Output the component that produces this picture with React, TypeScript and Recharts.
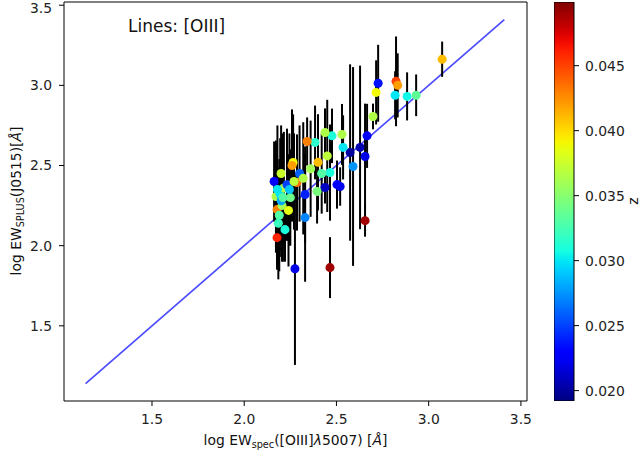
import {
  ScatterChart,
  ComposedChart,
  Scatter,
  Bar,
  XAxis,
  YAxis,
  ZAxis,
  ErrorBar,
  Cell,
  ReferenceLine,
  ReferenceArea,
} from "recharts";

// log EW_spec([OIII]) per galaxy
const xs = [
  3.073, 2.823, 2.832, 2.726, 2.715, 2.818, 2.883, 2.932, 2.698,
  2.666, 2.628, 2.655, 2.574, 2.59, 2.53, 2.476, 2.438, 2.536, 2.384, 2.341,
  2.465, 2.52, 2.503, 2.438, 2.395, 2.33, 2.33, 2.275, 2.465, 2.655,
  2.162, 2.172, 2.178, 2.178, 2.221, 2.265, 2.286, 2.259, 2.2,
  2.195, 2.205, 2.215, 2.19, 2.24, 2.2, 2.25, 2.232, 2.185,
  2.3, 2.32, 2.36, 2.4, 2.42, 2.45,
  2.18, 2.21, 2.245, 2.27,
];
// log EW_SPLUS(J0515)
const ys = [
  3.163, 3.025, 3.0, 3.013, 2.956, 2.938, 2.931, 2.938, 2.806,
  2.685, 2.613, 2.556, 2.581, 2.494, 2.694, 2.685, 2.706, 2.613, 2.644, 2.65,
  2.456, 2.369, 2.381, 2.363, 2.338, 2.319, 2.175, 1.856, 1.863, 2.156,
  2.4, 2.306, 2.225, 2.05, 2.1, 2.519, 2.394, 2.5, 2.45,
  2.32, 2.25, 2.36, 2.19, 2.22, 2.28, 2.3, 2.38, 2.14,
  2.45, 2.42, 2.48, 2.52, 2.45, 2.56,
  2.35, 2.3, 2.35, 2.4,
];
// y uncertainty
const errs = [
  0.11, 0.28, 0.2, 0.24, 0.2, 0.15, 0.15, 0.13, 0.08,
  0.2, 0.51, 0.33, 0.55, 0.62, 0.19, 0.17, 0.15, 0.2, 0.23, 0.15,
  0.3, 0.12, 0.15, 0.1, 0.2, 0.3, 0.4, 0.6, 0.19, 0.1,
  0.25, 0.35, 0.35, 0.2, 0.2, 0.3, 0.3, 0.35, 0.3,
  0.35, 0.35, 0.35, 0.35, 0.35, 0.35, 0.3, 0.35, 0.35,
  0.3, 0.35, 0.3, 0.3, 0.25, 0.35,
  0.4, 0.4, 0.35, 0.3,
];
// redshift
const zs = [
  0.041, 0.045, 0.042, 0.0235, 0.039, 0.03, 0.0305, 0.0335, 0.0365,
  0.023, 0.0205, 0.022, 0.02, 0.0275, 0.0365, 0.031, 0.0365, 0.03, 0.0315, 0.043,
  0.031, 0.022, 0.023, 0.021, 0.0345, 0.024, 0.027, 0.022, 0.049, 0.049,
  0.023, 0.0365, 0.043, 0.046, 0.031, 0.039, 0.0435, 0.042, 0.0375,
  0.03, 0.036, 0.0365, 0.033, 0.0385, 0.028, 0.034, 0.025, 0.032,
  0.026, 0.0365, 0.036, 0.041, 0.033, 0.037,
  0.03, 0.033, 0.029, 0.037,
];

const xTicks = [1.5, 2.0, 2.5, 3.0, 3.5];
const yTicks = [1.5, 2.0, 2.5, 3.0, 3.5];
const zTicks = [0.02, 0.025, 0.03, 0.035, 0.04, 0.045];
const oneToOne = [1.14, 3.41];

const X_DOMAIN: [number, number] = [1.023, 3.533];
const Y_DOMAIN: [number, number] = [1.031, 3.52];
const Z_MIN = 0.0192;
const Z_MAX = 0.0499;

const data = xs.map((x, i) => ({ x, y: ys[i], err: errs[i], z: zs[i] }));
const colorbarData = [{ name: "z", range: [Z_MIN, Z_MAX] }];

const FONT = "DejaVu Sans, sans-serif";
const tickStyle = { fontSize: 13.9, fill: "#222", fontFamily: FONT };

// matplotlib "jet"
const JET_R = [[0, 0], [0.35, 0], [0.66, 1], [0.89, 1], [1, 0.5]];
const JET_G = [[0, 0], [0.125, 0], [0.375, 1], [0.64, 1], [0.91, 0], [1, 0]];
const JET_B = [[0, 0.5], [0.11, 1], [0.34, 1], [0.65, 0], [1, 0]];

function channel(pts: number[][], t: number) {
  for (let i = 1; i < pts.length; i++) {
    if (t <= pts[i][0]) {
      const [t0, v0] = pts[i - 1];
      const [t1, v1] = pts[i];
      return v0 + ((t - t0) / (t1 - t0)) * (v1 - v0);
    }
  }
  return pts[pts.length - 1][1];
}

function jet(t: number) {
  const c = Math.max(0, Math.min(1, t));
  const r = Math.round(channel(JET_R, c) * 255);
  const g = Math.round(channel(JET_G, c) * 255);
  const b = Math.round(channel(JET_B, c) * 255);
  return `rgb(${r},${g},${b})`;
}

const zColor = (z: number) => jet((z - Z_MIN) / (Z_MAX - Z_MIN));
const gradStops = Array.from({ length: 41 }, (_, i) => i / 40);

export default function App() {
  return (
    <div
      style={{
        position: "absolute",
        left: 0,
        top: 0,
        width: 644,
        height: 459,
        background: "#fff",
        fontFamily: FONT,
      }}
    >
      <svg width={1} height={1} style={{ position: "absolute", left: 0, top: 0 }}>
        <defs>
          <linearGradient id="jetGrad" x1="0" y1="1" x2="0" y2="0">
            {gradStops.map((t) => (
              <stop key={t} offset={t} stopColor={jet(t)} />
            ))}
          </linearGradient>
        </defs>
      </svg>

      <div style={{ position: "absolute", left: 0, top: 0 }}>
        <ScatterChart
          width={644}
          height={459}
          margin={{ top: 2, right: 117, bottom: 0, left: 0 }}
        >
          <XAxis
            type="number"
            dataKey="x"
            domain={X_DOMAIN}
            ticks={xTicks}
            allowDataOverflow
            height={58}
            axisLine={false}
            tickSize={5}
            tickMargin={8}
            tickLine={{ stroke: "#000" }}
            tick={tickStyle}
            tickFormatter={(v: number) => v.toFixed(1)}
          />
          <YAxis
            type="number"
            dataKey="y"
            domain={Y_DOMAIN}
            ticks={yTicks}
            allowDataOverflow
            width={64}
            axisLine={false}
            tickSize={5}
            tickMargin={7}
            tickLine={{ stroke: "#000" }}
            tick={tickStyle}
            tickFormatter={(v: number) => v.toFixed(1)}
          />
          <ZAxis range={[100, 100]} />
          <ReferenceLine
            segment={[
              { x: oneToOne[0], y: oneToOne[0] },
              { x: oneToOne[1], y: oneToOne[1] },
            ]}
            stroke="#4d4dff"
            strokeWidth={1.7}
          />
          <Scatter data={data} isAnimationActive={false}>
            {data.map((d, i) => (
              <Cell key={`pt-${i}`} fill={zColor(d.z)} />
            ))}
          </Scatter>
          <Scatter data={data} isAnimationActive={false} shape={() => <g />}>
            <ErrorBar
              dataKey="err"
              direction="y"
              width={0}
              stroke="#000"
              strokeWidth={2}
              isAnimationActive={false}
            />
          </Scatter>
          <ReferenceArea
            x1={X_DOMAIN[0]}
            x2={X_DOMAIN[1]}
            y1={Y_DOMAIN[0]}
            y2={Y_DOMAIN[1]}
            fill="none"
            stroke="#000"
            strokeWidth={1}
            fillOpacity={0}
          />
        </ScatterChart>
      </div>

      <div style={{ position: "absolute", left: 554, top: 0 }}>
        <ComposedChart
          width={90}
          height={459}
          data={colorbarData}
          margin={{ top: 2, right: 0, bottom: 58, left: 0 }}
          barCategoryGap={0}
        >
          <XAxis type="category" dataKey="name" hide />
          <YAxis
            type="number"
            orientation="right"
            domain={[Z_MIN, Z_MAX]}
            ticks={zTicks}
            allowDataOverflow
            width={70}
            axisLine={false}
            tickSize={5}
            tickMargin={6}
            tickLine={{ stroke: "#000" }}
            tick={tickStyle}
            tickFormatter={(v: number) => v.toFixed(3)}
          />
          <Bar
            dataKey="range"
            fill="url(#jetGrad)"
            stroke="#000"
            strokeWidth={1}
            isAnimationActive={false}
          />
        </ComposedChart>
      </div>

      <svg
        width={644}
        height={459}
        style={{ position: "absolute", left: 0, top: 0, pointerEvents: "none" }}
        fontFamily={FONT}
        fill="#111"
      >
        <text x={128} y={32} fontSize={17}>
          Lines: [OIII]
        </text>
        <text x={295.5} y={445} fontSize={13.9} textAnchor="middle">
          log EW
          <tspan fontSize={9.7} dy={3}>
            spec
          </tspan>
          <tspan dy={-3}>([OIII]</tspan>
          <tspan fontStyle="italic">λ</tspan>
          <tspan>5007) [</tspan>
          <tspan fontStyle="italic">Å</tspan>
          <tspan>]</tspan>
        </text>
        <text
          x={0}
          y={0}
          fontSize={13.9}
          textAnchor="middle"
          transform="translate(21,201) rotate(-90)"
        >
          log EW
          <tspan fontSize={9.7} dy={3}>
            SPLUS
          </tspan>
          <tspan dy={-3}>(J0515)[</tspan>
          <tspan fontStyle="italic">Å</tspan>
          <tspan>]</tspan>
        </text>
        <text
          x={0}
          y={0}
          fontSize={13.9}
          textAnchor="middle"
          transform="translate(638,201) rotate(-90)"
        >
          z
        </text>
      </svg>
    </div>
  );
}
